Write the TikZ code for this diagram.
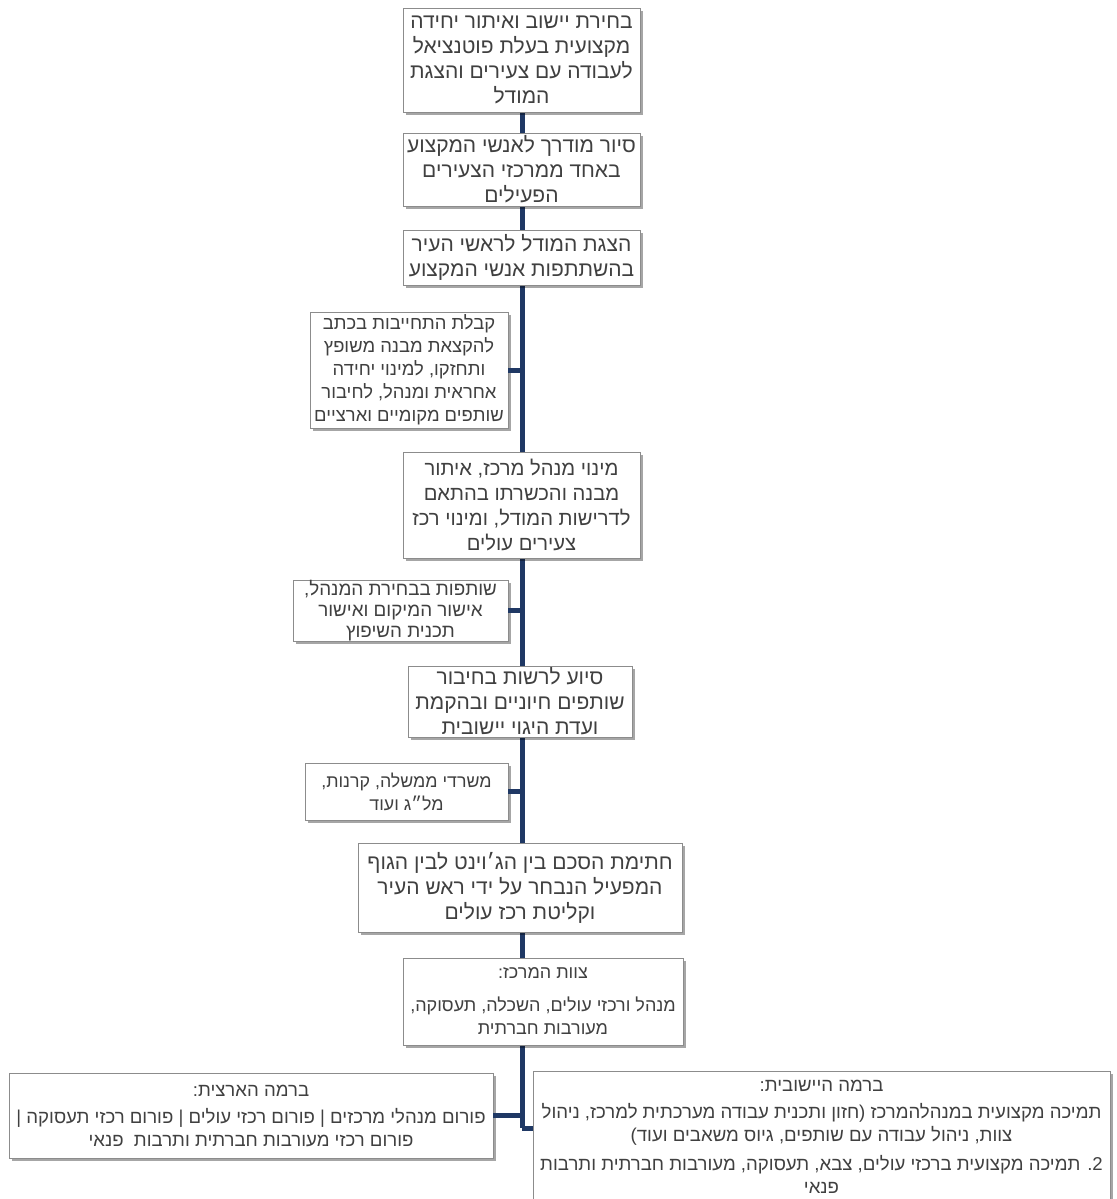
\documentclass[tikz,border=0pt]{standalone}
\usepackage{fontspec}
\newfontfamily\hebfont[Script=Hebrew]{Liberation Sans}
\TeXXeTstate=1
\usetikzlibrary{shadows,backgrounds}
\definecolor{trunkblue}{RGB}{31,56,100}
\definecolor{boxline}{RGB}{140,140,140}
\definecolor{boxtext}{RGB}{64,64,64}
\newcommand{\rl}[1]{\beginR #1\endR}
\tikzset{
  stepbox/.style={draw=boxline, fill=white, inner sep=0pt, align=center, text=boxtext,
    font=\hebfont\fontsize{10.5}{12.5}\selectfont,
    drop shadow={shadow xshift=1.5pt, shadow yshift=-1.5pt, fill=black, opacity=0.35}},
  smallstep/.style={stepbox, font=\hebfont\fontsize{9.2}{11.5}\selectfont},
  levelbox/.style={stepbox, font=\hebfont\fontsize{9.3}{11.5}\selectfont},
  trunk/.style={draw=trunkblue, line width=2.5pt},
}
\begin{document}
\begin{tikzpicture}[x=0.5pt,y=-0.5pt]
\useasboundingbox (0,0) rectangle (1117,1199);
% main steps
\node[stepbox, minimum width=118.5pt, minimum height=52pt] (b1) at (521.5,60)
  {\rl{בחירת יישוב ואיתור יחידה}\\\rl{מקצועית בעלת פוטנציאל}\\\rl{לעבודה עם צעירים והצגת}\\\rl{המודל}};
\node[stepbox, minimum width=118.5pt, minimum height=36.5pt] (b2) at (521.5,169.5)
  {\rl{סיור מודרך לאנשי המקצוע}\\\rl{באחד ממרכזי הצעירים}\\\rl{הפעילים}};
\node[stepbox, minimum width=118.5pt, minimum height=27.5pt] (b3) at (521.5,257.5)
  {\rl{הצגת המודל לראשי העיר}\\\rl{בהשתתפות אנשי המקצוע}};
\node[smallstep, minimum width=99pt, minimum height=58pt] (b4) at (409,370)
  {\rl{קבלת התחייבות בכתב}\\\rl{להקצאת מבנה משופץ}\\\rl{ותחזקו, למינוי יחידה}\\\rl{אחראית ומנהל, לחיבור}\\\rl{שותפים מקומיים וארציים}};
\node[stepbox, font=\hebfont\fontsize{10.1}{12.5}\selectfont, minimum width=118.5pt, minimum height=53pt] (b5) at (521.5,505)
  {\rl{מינוי מנהל מרכז, איתור}\\\rl{מבנה והכשרתו בהתאם}\\\rl{לדרישות המודל, ומינוי רכז}\\\rl{צעירים עולים}};
\node[smallstep, font=\hebfont\fontsize{9.4}{10.5}\selectfont, minimum width=107.5pt, minimum height=30.5pt] (b6) at (400.5,610.5)
  {\rl{שותפות בבחירת המנהל,}\\\rl{אישור המיקום ואישור}\\\rl{תכנית השיפוץ}};
\node[stepbox, minimum width=112pt, minimum height=35.5pt] (b7) at (520,701.5)
  {\rl{סיוע לרשות בחיבור}\\\rl{שותפים חיוניים ובהקמת}\\\rl{ועדת היגוי יישובית}};
\node[smallstep, font=\hebfont\fontsize{8.9}{11.5}\selectfont, minimum width=101.5pt, minimum height=28.5pt] (b8) at (406.5,791.5)
  {\rl{משרדי ממשלה, קרנות,}\\\rl{מל״ג ועוד}};
\node[stepbox, minimum width=162pt, minimum height=44.5pt] (b9) at (520,887.5)
  {\rl{חתימת הסכם בין הג׳וינט לבין הגוף}\\\rl{המפעיל הנבחר על ידי ראש העיר}\\\rl{וקליטת רכז עולים}};
\node[smallstep, font=\hebfont\fontsize{9}{11.5}\selectfont, minimum width=140pt, minimum height=43.5pt] (b10) at (543,1001.5)
  {\rl{צוות המרכז:}\\[5pt]\rl{מנהל ורכזי עולים, השכלה, תעסוקה,}\\\rl{מעורבות חברתית}};
% two levels
\node[levelbox, minimum width=242pt, minimum height=42.5pt] (b11) at (251,1115.5)
  {\rl{ברמה הארצית:}\\[2pt]\rl{פורום מנהלי מרכזים | פורום רכזי עולים | פורום רכזי תעסוקה |}\\\rl{פורום רכזי מעורבות חברתית ותרבות \ פנאי}};
\node[levelbox, minimum width=288.5pt, minimum height=66pt] (b12) at (821.5,1137)
  {\rl{ברמה היישובית:}\\[2pt]\rl{תמיכה מקצועית במנהלהמרכז (חזון ותכנית עבודה מערכתית למרכז, ניהול}\\\rl{צוות, ניהול עבודה עם שותפים, גיוס משאבים ועוד)}\\[3pt]\rl{2. תמיכה מקצועית ברכזי עולים, צבא, תעסוקה, מעורבות חברתית ותרבות}\\\rl{פנאי}};
\coordinate (tend) at (522,1128);
\begin{scope}[on background layer]
\fill[white] (0,0) rectangle (1117,1199);
\draw[trunk] (b1.south -| tend) -- (tend);
\end{scope}
% side boxes hang on the trunk
\foreach \b in {b4,b6,b8,b11}
{\draw[trunk] (\b.east) -- (\b.east -| tend);}
\draw[trunk] (tend) -- (b12.west |- tend);
\end{tikzpicture}
\end{document}
